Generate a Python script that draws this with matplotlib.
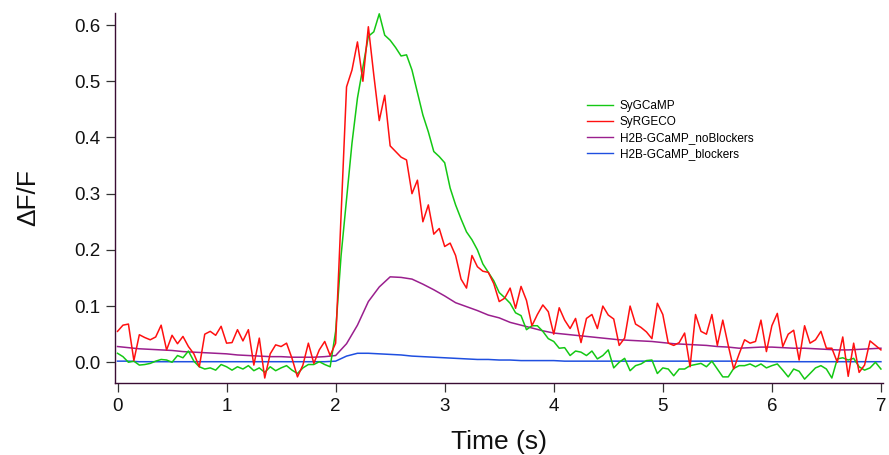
import numpy as np
import matplotlib
matplotlib.use("Agg")
import matplotlib.pyplot as plt

plt.rcParams['font.family'] = ['Liberation Sans', 'DejaVu Sans']

# fast traces sampled every 50 ms, nuclear traces every 100 ms
time_fast = np.round(np.arange(141) * 0.05, 2)
time_slow = np.round(np.arange(71) * 0.1, 1)

sy_gcamp = [
    0.016, 0.010, 0.000, 0.002, -0.005, -0.004, -0.002, 0.002, 0.005, 0.004,
    0.000, 0.012, 0.008, 0.020, 0.002, -0.008, -0.012, -0.010, -0.014, -0.004,
    -0.008, -0.014, -0.008, -0.012, -0.006, -0.015, -0.010, -0.018, -0.008, -0.015,
    -0.010, -0.006, -0.014, -0.020, -0.010, -0.004, -0.004, 0.001, -0.004, -0.008,
    0.055, 0.190, 0.290, 0.390, 0.470, 0.525, 0.580, 0.588, 0.620, 0.582,
    0.573, 0.560, 0.545, 0.547, 0.520, 0.480, 0.440, 0.410, 0.375, 0.366,
    0.355, 0.310, 0.280, 0.255, 0.232, 0.218, 0.200, 0.175, 0.160, 0.145,
    0.124, 0.115, 0.105, 0.088, 0.083, 0.058, 0.065, 0.065, 0.055, 0.042,
    0.037, 0.025, 0.026, 0.012, 0.020, 0.018, 0.012, 0.020, 0.006, 0.012,
    0.022, -0.010, 0.000, 0.007, -0.015, -0.006, -0.003, 0.003, 0.004, -0.020,
    -0.010, -0.012, -0.024, -0.012, -0.012, -0.006, -0.004, -0.002, -0.008, 0.002,
    -0.012, -0.026, -0.026, -0.011, -0.006, -0.006, -0.003, -0.008, -0.003, -0.010,
    -0.006, -0.003, -0.014, -0.026, -0.012, -0.016, -0.030, -0.020, -0.010, -0.006,
    -0.012, -0.028, 0.006, 0.008, 0.004, 0.007, -0.008, -0.014, -0.010, 0.000,
    -0.012,
]

sy_rgeco = [
    0.055, 0.066, 0.068, 0.003, 0.049, 0.044, 0.040, 0.045, 0.066, 0.022,
    0.048, 0.033, 0.046, 0.028, 0.015, -0.008, 0.050, 0.055, 0.048, 0.064,
    0.034, 0.035, 0.058, 0.038, 0.058, -0.005, 0.043, -0.028, 0.015, 0.031,
    0.028, 0.034, 0.007, -0.026, -0.005, 0.034, -0.002, 0.022, 0.037, 0.012,
    0.034, 0.260, 0.490, 0.520, 0.570, 0.500, 0.597, 0.511, 0.430, 0.475,
    0.385, 0.375, 0.365, 0.360, 0.300, 0.324, 0.250, 0.280, 0.228, 0.238,
    0.206, 0.212, 0.190, 0.148, 0.132, 0.190, 0.170, 0.162, 0.160, 0.140,
    0.108, 0.114, 0.132, 0.096, 0.135, 0.110, 0.065, 0.085, 0.102, 0.090,
    0.050, 0.097, 0.075, 0.060, 0.078, 0.035, 0.078, 0.085, 0.060, 0.100,
    0.084, 0.077, 0.030, 0.043, 0.100, 0.068, 0.062, 0.054, 0.042, 0.105,
    0.085, 0.034, 0.030, 0.035, 0.052, -0.008, 0.085, 0.055, 0.050, 0.085,
    0.030, 0.075, 0.030, -0.012, 0.015, 0.040, 0.034, 0.037, 0.075, 0.019,
    0.065, 0.087, 0.028, 0.050, 0.057, 0.004, 0.065, 0.034, 0.040, 0.055,
    0.025, 0.025, 0.000, 0.045, -0.025, 0.034, -0.018, -0.005, 0.038, 0.030,
    0.022,
]

h2b_no_blockers = [
    0.028, 0.026, 0.024, 0.023, 0.022, 0.021, 0.019, 0.018, 0.017, 0.016,
    0.015, 0.013, 0.012, 0.011, 0.010, 0.010, 0.009, 0.009, 0.009, 0.010,
    0.012, 0.033, 0.066, 0.108, 0.134, 0.152, 0.151, 0.148, 0.139, 0.129,
    0.118, 0.106, 0.099, 0.092, 0.084, 0.079, 0.071, 0.066, 0.061, 0.056,
    0.052, 0.050, 0.048, 0.046, 0.044, 0.042, 0.040, 0.039, 0.038, 0.037,
    0.035, 0.033, 0.032, 0.031, 0.030, 0.028, 0.027, 0.025, 0.026, 0.027,
    0.027, 0.026, 0.025, 0.025, 0.024, 0.023, 0.022, 0.022, 0.023, 0.024,
    0.025,
]

h2b_blockers = [
    0.002, 0.002, 0.001, 0.001, 0.001, 0.001, 0.001, 0.001, 0.001, 0.001,
    0.001, 0.001, 0.001, 0.001, 0.001, 0.001, 0.001, 0.001, 0.001, 0.001,
    0.002, 0.011, 0.016, 0.016, 0.015, 0.014, 0.013, 0.011, 0.010, 0.009,
    0.008, 0.007, 0.006, 0.005, 0.005, 0.004, 0.004, 0.003, 0.003, 0.003,
    0.003, 0.002, 0.002, 0.002, 0.002, 0.002, 0.002, 0.002, 0.002, 0.002,
    0.002, 0.002, 0.002, 0.002, 0.002, 0.002, 0.002, 0.002, 0.002, 0.002,
    0.001, 0.001, 0.001, 0.001, 0.001, 0.001, 0.001, 0.001, 0.001, 0.001,
    0.001,
]

labels = ["SyGCaMP", "SyRGECO", "H2B-GCaMP_noBlockers", "H2B-GCaMP_blockers"]
colors = ["#14c814", "#ff1010", "#9a1f8e", "#1f4fe0"]

x_ticks = [0, 1, 2, 3, 4, 5, 6, 7]
y_ticks = [0.0, 0.1, 0.2, 0.3, 0.4, 0.5, 0.6]

fig = plt.figure(figsize=(8.89, 4.55), dpi=100)
ax = fig.add_axes([0.129, 0.1576, 0.864, 0.8145])

series = [
    (time_fast, sy_gcamp, 3),
    (time_fast, sy_rgeco, 4),
    (time_slow, h2b_no_blockers, 2),
    (time_slow, h2b_blockers, 1),
]
for (t, y, z), lab, col in zip(series, labels, colors):
    ax.plot(t, y, color=col, lw=1.1, label=lab, zorder=z)

ax.set_xlim(-0.026, 7.017)
ax.set_ylim(-0.0374, 0.622)
ax.set_xticks(x_ticks)
ax.set_xticklabels([str(v) for v in x_ticks])
ax.set_yticks(y_ticks)
ax.set_yticklabels([f"{v:.1f}" for v in y_ticks])

spine_col = "#3a0d33"
for side in ("top", "right"):
    ax.spines[side].set_visible(False)
for side in ("left", "bottom"):
    ax.spines[side].set_color(spine_col)
    ax.spines[side].set_linewidth(1.0)

ax.tick_params(axis="both", direction="out", length=6.5, width=0.9,
               color="#333333", labelsize=13.5, labelcolor="#111111", pad=4)

ax.set_xlabel("Time (s)", fontsize=19, color="#111111", labelpad=11)
ax.set_ylabel("\u0394F/F", fontsize=19, color="#111111", labelpad=24)

leg = ax.legend(loc="upper left", bbox_to_anchor=(0.66, 0.780),
                bbox_transform=fig.transFigure, frameon=False,
                fontsize=8.5, handlelength=2.2, handletextpad=0.6,
                labelspacing=0.34, borderpad=0, borderaxespad=0)
for line in leg.get_lines():
    line.set_linewidth(1.0)

fig.savefig("out.png", dpi=100)
